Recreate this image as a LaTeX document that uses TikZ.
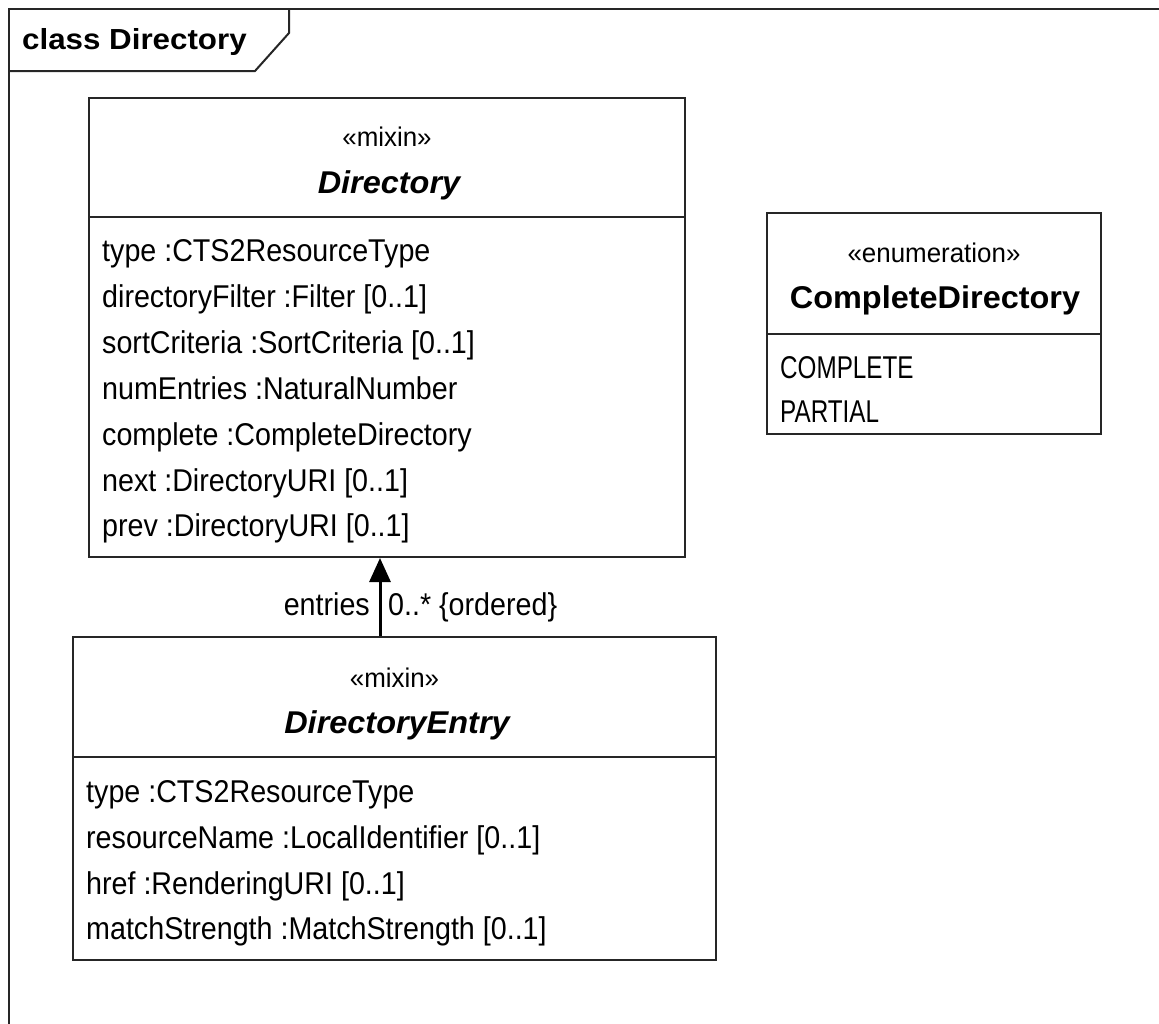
\documentclass[tikz,border=0pt]{standalone}
\usepackage{fontspec}
\setmainfont[FakeStretch=0.91]{Liberation Sans}
\newfontfamily\capsface[FakeStretch=0.77]{Liberation Sans}
\newfontfamily\nameface[FakeStretch=1.03]{Liberation Sans}
\newfontfamily\stereoface[FakeStretch=0.96]{Liberation Sans}
\newfontfamily\titleface[FakeStretch=1.08]{Liberation Sans}
\usetikzlibrary{arrows.meta}

\begin{document}
\begin{tikzpicture}[x=1pt,y=-1pt,
  frameline/.style={line width=2pt, draw=black!85},
  classbox/.style={draw=black!85, line width=2pt, rectangle, inner sep=0pt},
  divider/.style={line width=2pt, draw=black!85},
  txt/.style={anchor=base west, inner sep=0pt, font=\fontsize{31.5}{36}\selectfont},
  lit/.style={anchor=base west, inner sep=0pt, font=\capsface\fontsize{31.5}{36}\selectfont},
  stereo/.style={anchor=base, inner sep=0pt, font=\stereoface\fontsize{27}{30}\selectfont},
  cname/.style={anchor=base, inner sep=0pt, font=\nameface\fontsize{31.5}{38}\selectfont\bfseries\itshape},
  ename/.style={anchor=base, inner sep=0pt, font=\nameface\fontsize{31.5}{38}\selectfont\bfseries},
  assoc/.style={line width=3pt, draw=black, -{Triangle[length=24pt,width=21pt]}}
]
\useasboundingbox (0,0) rectangle (1159,1023);

% diagram frame and its name tab
\draw[frameline] (9,1030) -- (9,9) -- (1170,9);
\draw[frameline] (289,9) -- (289,33) -- (255,71) -- (9,71);
\node[anchor=base west, inner sep=0pt, font=\titleface\fontsize{29}{34}\selectfont\bfseries] (frametitle) at (22,49) {class Directory};

% class Directory
\node[classbox, minimum width=596pt, minimum height=459pt] (dir) at (387,327.5) {};
\coordinate (dirdiv) at (0,217);
\draw[divider] (dir.west |- dirdiv) -- (dir.east |- dirdiv);
\node[stereo] (dirst) at (387,146) {«mixin»};
\node[cname] (dirname) at (389,193) {Directory};
\node[txt] (d1) at (102,261) {type :CTS2ResourceType};
\node[txt] (d2) at (102,307) {directoryFilter :Filter [0..1]};
\node[txt] (d3) at (102,353) {sortCriteria :SortCriteria [0..1]};
\node[txt] (d4) at (102,399) {numEntries :NaturalNumber};
\node[txt] (d5) at (102,445) {complete :CompleteDirectory};
\node[txt] (d6) at (102,491) {next :DirectoryURI [0..1]};
\node[txt] (d7) at (102,536) {prev :DirectoryURI [0..1]};

% enumeration CompleteDirectory
\node[classbox, minimum width=334pt, minimum height=221pt] (enum) at (934,323.5) {};
\coordinate (enumdiv) at (0,334);
\draw[divider] (enum.west |- enumdiv) -- (enum.east |- enumdiv);
\node[stereo] (enumst) at (934,262) {«enumeration»};
\node[ename] (enumname) at (935,308) {CompleteDirectory};
\node[lit] (e1) at (780,378) {COMPLETE};
\node[lit] (e2) at (780,422) {PARTIAL};

% class DirectoryEntry
\node[classbox, minimum width=643pt, minimum height=323pt] (entry) at (394.5,798.5) {};
\coordinate (entrydiv) at (0,757);
\draw[divider] (entry.west |- entrydiv) -- (entry.east |- entrydiv);
\node[stereo] (entryst) at (394.5,687) {«mixin»};
\node[cname] (entryname) at (397,733) {DirectoryEntry};
\node[txt] (n1) at (86,802) {type :CTS2ResourceType};
\node[txt] (n2) at (86,848) {resourceName :LocalIdentifier [0..1]};
\node[txt] (n3) at (86,894) {href :RenderingURI [0..1]};
\node[txt] (n4) at (86,939) {matchStrength :MatchStrength [0..1]};

% association entries
\coordinate (ax) at (380,0);
\draw[assoc] (entry.north -| ax) -- (dir.south -| ax);
\node[anchor=base east, inner sep=0pt, font=\fontsize{31.5}{36}\selectfont] (rolename) at (370,615) {entries};
\node[anchor=base west, inner sep=0pt, font=\fontsize{31.5}{36}\selectfont] (mult) at (388,615) {0..* \{ordered\}};
\end{tikzpicture}
\end{document}
